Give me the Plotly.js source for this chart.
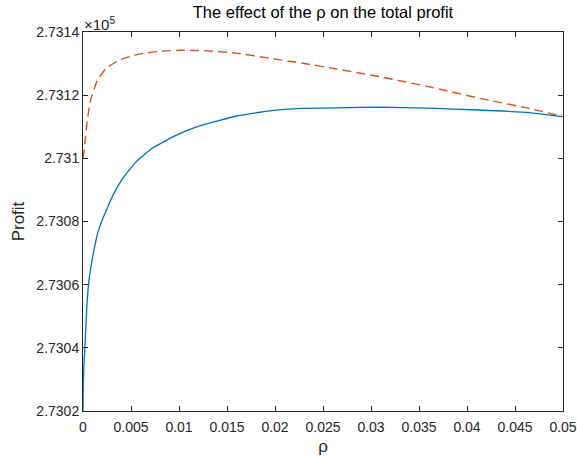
<!DOCTYPE html>
<html>
<head>
<meta charset="utf-8">
<script src="https://cdn.plot.ly/plotly-3.0.1.min.js"></script>
<style>html,body{margin:0;padding:0;background:#fff;}#chart{width:577px;height:456px;}</style>
</head>
<body>
<div id="chart"></div>
<script>
// Profit values in units of 10^5
const rhoSolid = [0, 0.00003, 0.0001, 0.0002, 0.0004, 0.000625, 0.0009, 0.00115, 0.0015, 0.002, 0.0025, 0.0031, 0.0041, 0.0055, 0.0072, 0.0093, 0.011, 0.0125, 0.016, 0.0194, 0.0229, 0.0264, 0.0309, 0.036, 0.0413, 0.0465, 0.05];
const profitSolid = [2.7302, 2.73028, 2.73035, 2.7304, 2.73053, 2.730615, 2.73067, 2.73071, 2.73076, 2.730805, 2.73084, 2.730882, 2.730935, 2.730988, 2.731032, 2.731067, 2.73109, 2.731106, 2.731134, 2.73115, 2.731158, 2.73116, 2.731162, 2.731159, 2.731153, 2.731145, 2.731132];

const rhoDashed = [0, 0.0001, 0.0002, 0.00045, 0.0008, 0.0015, 0.0024, 0.00375, 0.0058, 0.0083, 0.0103, 0.0125, 0.016, 0.0194, 0.0229, 0.0264, 0.0308, 0.036, 0.0413, 0.0465, 0.05];
const profitDashed = [2.7310, 2.73102, 2.731048, 2.731121, 2.731185, 2.731248, 2.731285, 2.731311, 2.73133, 2.73134, 2.731342, 2.731341, 2.731333, 2.731317, 2.731301, 2.731283, 2.731259, 2.731227, 2.73119, 2.731158, 2.731132];

const xTickVals = [0, 0.005, 0.01, 0.015, 0.02, 0.025, 0.03, 0.035, 0.04, 0.045, 0.05];
const xTickText = ["0", "0.005", "0.01", "0.015", "0.02", "0.025", "0.03", "0.035", "0.04", "0.045", "0.05"];
const yTickVals = [2.7302, 2.7304, 2.7306, 2.7308, 2.7310, 2.7312, 2.7314];
const yTickText = ["2.7302", "2.7304", "2.7306", "2.7308", "2.731", "2.7312", "2.7314"];

const fontFam = "Liberation Sans, Arial, sans-serif";
const axisCol = "#262626";

const traces = [
  {x: rhoSolid, y: profitSolid, type: "scatter", mode: "lines", line: {color: "#0072BD", width: 1.3, shape: "spline", smoothing: 0.3}, hoverinfo: "skip"},
  {x: rhoDashed, y: profitDashed, type: "scatter", mode: "lines", line: {color: "#D95319", width: 1.4, dash: "9px,5px", shape: "spline", smoothing: 0.3}, hoverinfo: "skip"}
];

const axisCommon = {
  showgrid: false, zeroline: false, showline: true, linecolor: axisCol, linewidth: 1,
  mirror: "allticks", ticks: "inside", ticklen: 5, tickcolor: axisCol, tickwidth: 1,
  tickfont: {family: fontFam, size: 14, color: axisCol}
};

const layout = {
  width: 577, height: 456,
  margin: {l: 83, r: 14, t: 32, b: 45},
  paper_bgcolor: "#fff", plot_bgcolor: "#fff",
  showlegend: false,
  title: {text: "The effect of the ρ on the total profit", font: {family: fontFam, size: 16.5, color: "#000"}, x: 0.5, xref: "paper", xanchor: "center", y: 0.974, yanchor: "middle"},
  xaxis: Object.assign({}, axisCommon, {range: [0, 0.05], tickvals: xTickVals, ticktext: xTickText, ticklabelstandoff: 3,
    title: {text: "ρ", font: {family: fontFam, size: 17, color: axisCol}, standoff: 16}}),
  yaxis: Object.assign({}, axisCommon, {range: [2.7302, 2.7314], tickvals: yTickVals, ticktext: yTickText,
    title: {text: "Profit", font: {family: fontFam, size: 17, color: axisCol}, standoff: 7}}),
  annotations: [
    {xref: "paper", yref: "paper", x: 0, y: 1, xanchor: "left", yanchor: "bottom", showarrow: false,
     text: "×10<sup>5</sup>", font: {family: fontFam, size: 15, color: axisCol}, xshift: -1, yshift: -3}
  ]
};

Plotly.newPlot("chart", traces, layout, {staticPlot: true, displayModeBar: false});
</script>
</body>
</html>
